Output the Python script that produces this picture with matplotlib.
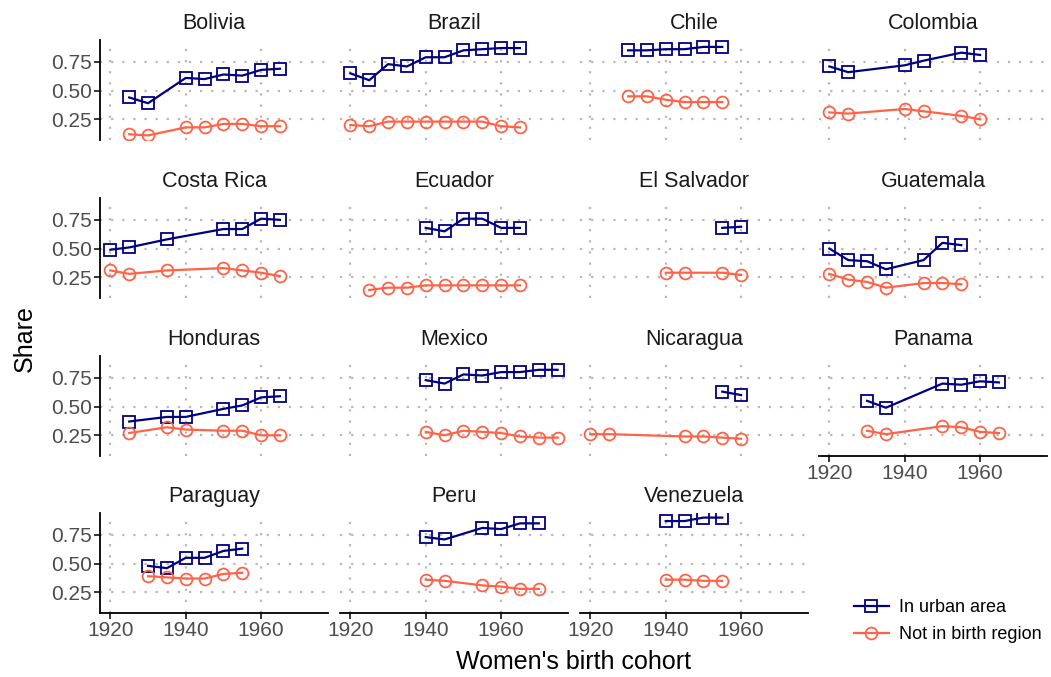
import numpy as np
import matplotlib
matplotlib.use("Agg")
import matplotlib.pyplot as plt
from matplotlib.lines import Line2D

nan = np.nan

# --------------------------------------------------------------------------- #
# data: share of women living in urban area / outside birth region by cohort
# --------------------------------------------------------------------------- #
countries = ["Bolivia", "Brazil", "Chile", "Colombia",
             "Costa Rica", "Ecuador", "El Salvador", "Guatemala",
             "Honduras", "Mexico", "Nicaragua", "Panama",
             "Paraguay", "Peru", "Venezuela"]

bolivia_years = [1925, 1930, 1940, 1945, 1950, 1955, 1960, 1965]
bolivia_urban = [0.44, 0.39, 0.61, 0.60, 0.64, 0.63, 0.68, 0.69]
bolivia_moved = [0.12, 0.11, 0.18, 0.18, 0.21, 0.21, 0.19, 0.19]

brazil_years = [1920, 1925, 1930, 1935, 1940, 1945, 1950, 1955, 1960, 1965]
brazil_urban = [0.65, 0.59, 0.73, 0.71, 0.79, 0.79, 0.85, 0.86, 0.87, 0.87]
brazil_moved = [0.20, 0.19, 0.23, 0.23, 0.23, 0.23, 0.23, 0.23, 0.19, 0.18]

chile_years = [1930, 1935, 1940, 1945, 1950, 1955]
chile_urban = [0.85, 0.85, 0.86, 0.86, 0.88, 0.88]
chile_moved = [0.45, 0.45, 0.42, 0.40, 0.40, 0.40]

colombia_years = [1920, 1925, 1940, 1945, 1955, 1960]
colombia_urban = [0.71, 0.66, 0.72, 0.76, 0.83, 0.81]
colombia_moved = [0.31, 0.30, 0.34, 0.32, 0.28, 0.25]

costarica_years = [1920, 1925, 1935, 1950, 1955, 1960, 1965]
costarica_urban = [0.49, 0.51, 0.58, 0.67, 0.67, 0.76, 0.75]
costarica_moved = [0.31, 0.28, 0.31, 0.33, 0.31, 0.29, 0.26]

ecuador_years = [1925, 1930, 1935, 1940, 1945, 1950, 1955, 1960, 1965]
ecuador_urban = [nan, nan, nan, 0.68, 0.65, 0.76, 0.76, 0.68, 0.68]
ecuador_moved = [0.14, 0.16, 0.16, 0.18, 0.18, 0.18, 0.18, 0.18, 0.18]

elsalvador_years = [1940, 1945, 1955, 1960]
elsalvador_urban = [nan, nan, 0.68, 0.69]
elsalvador_moved = [0.29, 0.29, 0.29, 0.27]

guatemala_years = [1920, 1925, 1930, 1935, 1945, 1950, 1955]
guatemala_urban = [0.50, 0.40, 0.39, 0.32, 0.40, 0.55, 0.53]
guatemala_moved = [0.28, 0.23, 0.21, 0.16, 0.20, 0.20, 0.19]

honduras_years = [1925, 1935, 1940, 1950, 1955, 1960, 1965]
honduras_urban = [0.37, 0.41, 0.41, 0.48, 0.51, 0.58, 0.59]
honduras_moved = [0.27, 0.32, 0.30, 0.29, 0.29, 0.25, 0.25]

mexico_years = [1940, 1945, 1950, 1955, 1960, 1965, 1970, 1975]
mexico_urban = [0.73, 0.70, 0.78, 0.77, 0.80, 0.80, 0.82, 0.82]
mexico_moved = [0.28, 0.25, 0.29, 0.28, 0.27, 0.24, 0.23, 0.23]

nicaragua_years = [1920, 1925, 1945, 1950, 1955, 1960]
nicaragua_urban = [nan, nan, nan, nan, 0.63, 0.60]
nicaragua_moved = [0.26, 0.26, 0.24, 0.24, 0.23, 0.22]

panama_years = [1930, 1935, 1950, 1955, 1960, 1965]
panama_urban = [0.55, 0.49, 0.70, 0.69, 0.72, 0.71]
panama_moved = [0.29, 0.26, 0.33, 0.32, 0.28, 0.27]

paraguay_years = [1930, 1935, 1940, 1945, 1950, 1955]
paraguay_urban = [0.48, 0.46, 0.55, 0.55, 0.61, 0.63]
paraguay_moved = [0.39, 0.38, 0.37, 0.37, 0.41, 0.42]

peru_years = [1940, 1945, 1955, 1960, 1965, 1970]
peru_urban = [0.73, 0.71, 0.81, 0.80, 0.85, 0.85]
peru_moved = [0.36, 0.35, 0.31, 0.30, 0.28, 0.28]

venezuela_years = [1940, 1945, 1950, 1955]
venezuela_urban = [0.87, 0.87, 0.90, 0.90]
venezuela_moved = [0.36, 0.36, 0.35, 0.35]

series = {
    "Bolivia": (bolivia_years, bolivia_urban, bolivia_moved),
    "Brazil": (brazil_years, brazil_urban, brazil_moved),
    "Chile": (chile_years, chile_urban, chile_moved),
    "Colombia": (colombia_years, colombia_urban, colombia_moved),
    "Costa Rica": (costarica_years, costarica_urban, costarica_moved),
    "Ecuador": (ecuador_years, ecuador_urban, ecuador_moved),
    "El Salvador": (elsalvador_years, elsalvador_urban, elsalvador_moved),
    "Guatemala": (guatemala_years, guatemala_urban, guatemala_moved),
    "Honduras": (honduras_years, honduras_urban, honduras_moved),
    "Mexico": (mexico_years, mexico_urban, mexico_moved),
    "Nicaragua": (nicaragua_years, nicaragua_urban, nicaragua_moved),
    "Panama": (panama_years, panama_urban, panama_moved),
    "Paraguay": (paraguay_years, paraguay_urban, paraguay_moved),
    "Peru": (peru_years, peru_urban, peru_moved),
    "Venezuela": (venezuela_years, venezuela_urban, venezuela_moved),
}

series_labels = ["In urban area", "Not in birth region"]
x_ticks = [1920, 1940, 1960]
y_ticks = [0.25, 0.50, 0.75]

URBAN = "#000080"
MOVED = "#FF6347"
GRID = "#b8b8b8"
TICKTXT = "#4d4d4d"

plt.rcParams["font.family"] = ["Liberation Sans", "DejaVu Sans"]

W, H = 1051, 677
fig = plt.figure(figsize=(W / 100, H / 100), dpi=100)

# panel geometry in pixels
col_left = [100, 340, 580, 819]
panel_w = 228
row_top = [40, 198, 356, 513]
panel_h = 100

ncol = 4
last_row_of_col = {0: 3, 1: 3, 2: 3, 3: 2}

for k, name in enumerate(countries):
    r, c = divmod(k, ncol)
    x0, y0 = col_left[c], row_top[r]
    ax = fig.add_axes([x0 / W, 1 - (y0 + panel_h) / H, panel_w / W, panel_h / H])
    years, urban, moved = series[name]
    ax.plot(years, urban, "-s", color=URBAN, lw=1.6, ms=8, mfc="none", mew=1.3,
            zorder=3)
    ax.plot(years, moved, "-o", color=MOVED, lw=1.6, ms=8.5, mfc="none", mew=1.3,
            zorder=3)

    ax.set_xlim(1917.25, 1977.75)
    ax.set_ylim(0.07, 0.94)
    ax.set_xticks(x_ticks)
    ax.set_yticks(y_ticks)
    ax.set_yticklabels([f"{v:.2f}" for v in y_ticks])
    ax.grid(True, color=GRID, ls=(0, (1, 4)), lw=1.6)
    ax.set_axisbelow(True)
    for s in ax.spines.values():
        s.set_visible(False)

    show_x = r == last_row_of_col[c]
    show_y = c == 0
    if show_x:
        ax.spines["bottom"].set_visible(True)
        ax.spines["bottom"].set_linewidth(1.3)
    if show_y:
        ax.spines["left"].set_visible(True)
        ax.spines["left"].set_linewidth(1.3)
    ax.tick_params(axis="x", bottom=show_x, labelbottom=show_x, length=4,
                   width=1.1, labelsize=15, labelcolor=TICKTXT, pad=2)
    ax.tick_params(axis="y", left=show_y, labelleft=show_y, length=4,
                   width=1.1, labelsize=15, labelcolor=TICKTXT, pad=2)
    ax.set_title(name, fontsize=15.5, color="#1a1a1a", pad=8)

fig.text(25 / W, 0.5 + 0 / H, "Share", rotation=90, ha="center", va="center",
         fontsize=18)
fig.text((100 + 1047) / 2 / W, 1 - 662 / H, "Women's birth cohort",
         ha="center", va="center", fontsize=18)

handles = [Line2D([], [], color=URBAN, marker="s", mfc="none", mew=1.3, ms=8,
                  lw=1.6),
           Line2D([], [], color=MOVED, marker="o", mfc="none", mew=1.3, ms=8.5,
                  lw=1.6)]
fig.legend(handles, series_labels, loc="center left",
           bbox_to_anchor=(838 / W, 1 - 621 / H), frameon=False, fontsize=13,
           handlelength=1.9, labelspacing=0.55, handletextpad=0.6)

fig.savefig("out.png", dpi=100)
